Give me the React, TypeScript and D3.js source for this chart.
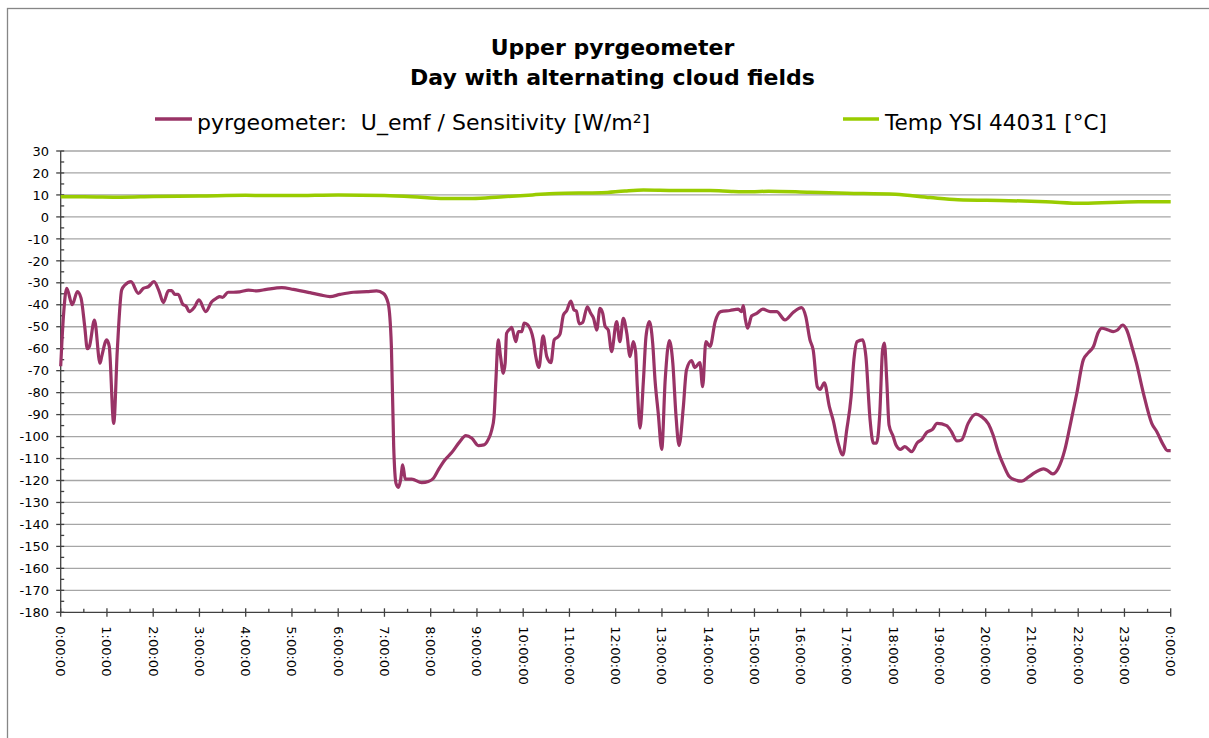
import React from "react";
import * as d3 from "d3";

const titleLines = ["Upper pyrgeometer", "Day with alternating cloud fields"];
const seriesNames = ["pyrgeometer:  U_emf / Sensitivity [W/m²]", "Temp YSI 44031 [°C]"];

const yTicks = [30, 20, 10, 0, -10, -20, -30, -40, -50, -60, -70, -80, -90, -100, -110, -120, -130, -140, -150, -160, -170, -180];
const xTickHours = [0, 1, 2, 3, 4, 5, 6, 7, 8, 9, 10, 11, 12, 13, 14, 15, 16, 17, 18, 19, 20, 21, 22, 23, 24];
const xTickLabels = ["0:00:00", "1:00:00", "2:00:00", "3:00:00", "4:00:00", "5:00:00", "6:00:00", "7:00:00", "8:00:00", "9:00:00", "10:00:00", "11:00:00", "12:00:00", "13:00:00", "14:00:00", "15:00:00", "16:00:00", "17:00:00", "18:00:00", "19:00:00", "20:00:00", "21:00:00", "22:00:00", "23:00:00", "0:00:00"];

const pyrHours = [0, 0.06, 0.13, 0.25, 0.36, 0.44, 0.52, 0.575, 0.62, 0.73, 0.85, 0.886, 0.995, 1.05, 1.146, 1.224, 1.318, 1.39, 1.52, 1.68, 1.786, 1.894, 2.017, 2.13, 2.22, 2.33, 2.4, 2.47, 2.54, 2.64, 2.71, 2.78, 2.89, 2.99, 3.135, 3.265, 3.37, 3.44, 3.5, 3.62, 3.73, 3.87, 4.06, 4.24, 4.45, 4.78, 5.03, 5.39, 5.61, 5.82, 6.04, 6.33, 6.62, 6.83, 6.975, 7.08, 7.15, 7.2, 7.25, 7.3, 7.35, 7.395, 7.45, 7.59, 7.805, 7.95, 8.06, 8.165, 8.31, 8.455, 8.63, 8.76, 8.89, 9.03, 9.15, 9.245, 9.32, 9.37, 9.41, 9.46, 9.51, 9.57, 9.61, 9.64, 9.73, 9.75, 9.84, 9.895, 9.97, 10.02, 10.09, 10.22, 10.27, 10.34, 10.43, 10.51, 10.6, 10.67, 10.74, 10.795, 10.87, 10.94, 11.03, 11.1, 11.15, 11.21, 11.285, 11.386, 11.46, 11.52, 11.59, 11.66, 11.72, 11.77, 11.84, 11.91, 12.02, 12.09, 12.165, 12.24, 12.31, 12.38, 12.43, 12.467, 12.525, 12.6, 12.655, 12.727, 12.8, 12.85, 12.92, 12.995, 13.07, 13.16, 13.235, 13.3, 13.37, 13.46, 13.53, 13.64, 13.71, 13.82, 13.88, 13.95, 14.04, 14.15, 14.27, 14.47, 14.65, 14.72, 14.76, 14.8, 14.85, 14.94, 15.05, 15.18, 15.34, 15.48, 15.66, 15.84, 16.02, 16.11, 16.2, 16.27, 16.36, 16.42, 16.51, 16.62, 16.7, 16.81, 16.91, 16.995, 17.09, 17.15, 17.22, 17.34, 17.41, 17.5, 17.57, 17.64, 17.71, 17.77, 17.81, 17.86, 17.91, 18.0, 18.06, 18.16, 18.25, 18.4, 18.52, 18.62, 18.72, 18.85, 18.95, 19.155, 19.26, 19.38, 19.48, 19.62, 19.79, 19.91, 20.06, 20.16, 20.27, 20.4, 20.51, 20.63, 20.78, 20.92, 21.07, 21.25, 21.32, 21.45, 21.57, 21.71, 21.82, 21.97, 22.11, 22.22, 22.33, 22.43, 22.51, 22.65, 22.76, 22.85, 22.96, 23.05, 23.16, 23.26, 23.41, 23.59, 23.7, 23.84, 23.93, 24.0];
const pyrValues = [-68, -45, -32.5, -40, -34, -37, -50, -60, -59, -47, -66.6, -63.6, -56, -59, -94, -60.6, -33.3, -31, -29.5, -34.8, -32.5, -31.8, -29.5, -34, -39, -33.6, -33.6, -35.3, -35.3, -39.8, -40.6, -43.1, -41.1, -37.8, -43.1, -38.6, -37, -36.3, -36.6, -34.3, -34.3, -34.1, -33.3, -33.7, -33, -32.2, -33, -34.5, -35.5, -36.3, -35.3, -34.3, -34, -33.7, -34.8, -39.3, -59, -104.6, -121.3, -123.1, -119.7, -112.9, -119.4, -119.4, -121, -120.5, -119, -115.2, -110.6, -107.3, -102.3, -99.6, -100.8, -104.1, -103.8, -101.3, -97, -90.9, -74.2, -56, -63.6, -71.2, -66.6, -53, -50.7, -50.3, -56.8, -52.2, -52.2, -48.4, -49, -56, -63.3, -68.5, -54.2, -63.6, -66.3, -56, -54.8, -53.4, -44.6, -42.7, -38.3, -42.4, -42.8, -48.7, -48.1, -40.9, -43.9, -46.1, -51.5, -41.6, -43.9, -49.7, -51.5, -61.3, -47.7, -56.8, -46.2, -53, -63.6, -56.8, -61.3, -77.3, -96.2, -74.2, -54.5, -47.7, -57.6, -74.2, -89.4, -105.8, -74.2, -56.3, -66.6, -89.4, -104.1, -87.1, -69.7, -65.4, -68.6, -66.3, -77.3, -56.8, -59, -47.7, -43.1, -42.6, -42, -43.1, -40.4, -46.2, -50.7, -45.1, -43.9, -42, -43.1, -43.1, -46.9, -43.4, -41.3, -45.4, -56, -60.6, -77.3, -78.5, -75.5, -86.4, -92.4, -103, -108.4, -97, -81.8, -65.1, -56.8, -56, -63.6, -92.4, -103, -103, -89.4, -60.6, -57.5, -74.2, -94.7, -100, -103.8, -105.8, -104.6, -106.9, -102.8, -101.3, -98.2, -96.7, -94, -95, -97.8, -102, -101.5, -94, -89.8, -90.9, -94.3, -99.3, -106.9, -113.7, -118.2, -119.7, -120.3, -118.5, -116.3, -114.7, -115.2, -117, -114.4, -106.1, -95.5, -80.3, -65.1, -61.8, -59, -52.7, -50.7, -51.5, -52.2, -51.5, -49.2, -51.5, -59, -66.6, -80.3, -94, -97.8, -103.8, -106.4, -106.4];

const tempHours = [0, 0.5, 1.3, 2, 3, 4, 5, 6, 7, 7.6, 8.3, 8.9, 9.5, 10.2, 10.7, 11.7, 12.2, 12.6, 13.3, 14.04, 14.5, 14.93, 15.3, 16.2, 17.0, 18.05, 18.8, 19.4, 20.5, 21.3, 22.1, 23.3, 24];
const tempValues = [9.2, 9.2, 9.0, 9.3, 9.5, 9.8, 9.7, 10.0, 9.7, 9.2, 8.4, 8.4, 9.1, 10.0, 10.7, 11.0, 11.8, 12.2, 12.0, 12.0, 11.6, 11.4, 11.7, 11.2, 10.8, 10.3, 8.8, 7.8, 7.4, 6.9, 6.2, 6.9, 6.9];

const W = 1209;
const H = 738;
const FONT = "'DejaVu Sans', sans-serif";

export default function App() {
  const x = d3.scaleLinear().domain([0, 24]).range([60.7, 1170.7]);
  const y = d3.scaleLinear().domain([-180, 30]).range([612.3, 151]);

  const line = d3
    .line<[number, number]>()
    .x((d) => x(d[0]))
    .y((d) => y(d[1]))
    .curve(d3.curveMonotoneX);

  const pyrData: [number, number][] = pyrHours.map((h, i) => [h, pyrValues[i]]);
  const tempData: [number, number][] = tempHours.map((h, i) => [h, tempValues[i]]);

  const minorY = d3.range(-175, 30, 10);
  const minorX = d3.range(0.5, 24, 1);
  const axisColor = "#404040";
  const gridColor = "#a6a6a6";
  const pyrColor = "#993366";
  const tempColor = "#99cc00";
  const x0 = x(0);
  const yBase = y(-180);

  return (
    <svg
      width={W}
      height={H}
      style={{ position: "absolute", left: 0, top: 0, background: "#fff" }}
      fontFamily={FONT}
    >
      <rect x={0} y={0} width={W} height={H} fill="#fff" />
      <rect x={7.5} y={8.5} width={W + 20} height={H + 20} fill="none" stroke="#868686" strokeWidth={1.3} />

      {titleLines.map((t, i) => (
        <text key={t} x={612.5} y={55 + i * 29.5} textAnchor="middle" fontSize={22} fontWeight="bold" fill="#000">
          {t}
        </text>
      ))}

      <line x1={155} x2={192} y1={119} y2={119} stroke={pyrColor} strokeWidth={3.5} />
      <text x={197} y={130} fontSize={22} fill="#000" style={{ whiteSpace: "pre" }}>{seriesNames[0]}</text>
      <line x1={843} x2={879} y1={119} y2={119} stroke={tempColor} strokeWidth={3.5} />
      <text x={885} y={130} fontSize={21.5} fill="#000">{seriesNames[1]}</text>

      {yTicks.filter((v) => v > -180).map((v) => (
        <line key={"g" + v} x1={x0} x2={x(24)} y1={y(v)} y2={y(v)} stroke={gridColor} strokeWidth={1.3} />
      ))}

      <line x1={x0} x2={x0} y1={y(30)} y2={yBase} stroke={axisColor} strokeWidth={1.3} />
      {yTicks.map((v) => (
        <line key={"yt" + v} x1={x0 - 4.5} x2={x0 + 3.5} y1={y(v)} y2={y(v)} stroke={axisColor} strokeWidth={1.3} />
      ))}
      {minorY.map((v) => (
        <line key={"ym" + v} x1={x0} x2={x0 + 3.5} y1={y(v)} y2={y(v)} stroke={axisColor} strokeWidth={1.3} />
      ))}
      {yTicks.map((v) => (
        <text key={"yl" + v} x={49} y={y(v)} dy="0.36em" textAnchor="end" fontSize={13} fill="#000">
          {v}
        </text>
      ))}

      <line x1={x0} x2={x(24)} y1={yBase} y2={yBase} stroke={axisColor} strokeWidth={1.3} />
      {xTickHours.map((h) => (
        <line key={"xt" + h} x1={x(h)} x2={x(h)} y1={yBase - 4} y2={yBase + 4.5} stroke={axisColor} strokeWidth={1.3} />
      ))}
      {minorX.map((h) => (
        <line key={"xm" + h} x1={x(h)} x2={x(h)} y1={yBase - 3.5} y2={yBase} stroke={axisColor} strokeWidth={1.3} />
      ))}
      {xTickHours.map((h, i) => (
        <text
          key={"xl" + i}
          transform={`translate(${x(h)},${yBase + 14}) rotate(90)`}
          dy="0.36em"
          textAnchor="start"
          fontSize={13}
          fill="#000"
        >
          {xTickLabels[i]}
        </text>
      ))}

      <path d={line(tempData) || ""} fill="none" stroke={tempColor} strokeWidth={3.5} strokeLinejoin="round" />
      <path d={line(pyrData) || ""} fill="none" stroke={pyrColor} strokeWidth={3.2} strokeLinejoin="round" />
    </svg>
  );
}
